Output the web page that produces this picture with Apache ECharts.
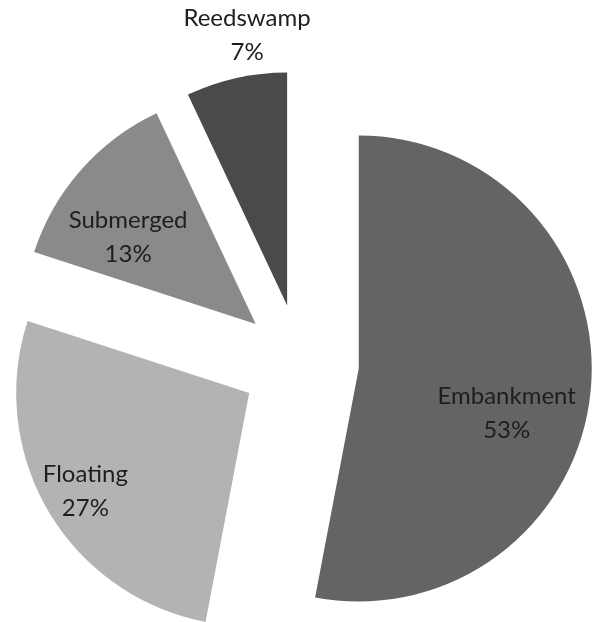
<!DOCTYPE html>
<html>
<head>
<meta charset="utf-8">
<script src="https://cdn.jsdelivr.net/npm/echarts@6/dist/echarts.min.js"></script>
<style>
  html, body { margin: 0; padding: 0; background: #ffffff; }
  #chart { width: 593px; height: 622px; }
</style>
</head>
<body>
<div id="chart"></div>
<script>
// Share of habitat types (percent)
const categories = ['Embankment', 'Floating', 'Submerged', 'Reedswamp'];
const shares = [53, 27, 13, 7];
const sliceColors = ['#646464', '#b3b3b3', '#8a8a8a', '#4a4a4a'];

// Nudges applied to each slice label from its default inside spot
const labelNudge = {
  Embankment: [29, 33],
  Floating: [-61, 37],
  Submerged: [-38, -8],
  Reedswamp: [-14, -154]
};

const chart = echarts.init(document.getElementById('chart'), null, { renderer: 'canvas' });

chart.setOption({
  backgroundColor: '#ffffff',
  animation: false,
  series: [{
    type: 'pie',
    center: [300, 363],
    radius: [0, 233],
    startAngle: 90,
    clockwise: true,
    selectedMode: 'multiple',
    selectedOffset: 59,
    avoidLabelOverlap: false,
    emphasis: { disabled: true },
    label: {
      show: true,
      position: 'inside',
      formatter: p => p.name + '\n' + p.value + '%',
      fontFamily: 'Lato',
      fontSize: 24,
      lineHeight: 34,
      color: '#1e1e1e',
      align: 'center'
    },
    labelLine: { show: false },
    labelLayout: params => {
      const n = labelNudge[categories[params.dataIndex]];
      return { dx: n[0], dy: n[1] };
    },
    data: categories.map((name, i) => ({
      name: name,
      value: shares[i],
      selected: true,
      itemStyle: { color: sliceColors[i] }
    }))
  }]
});
</script>
</body>
</html>
